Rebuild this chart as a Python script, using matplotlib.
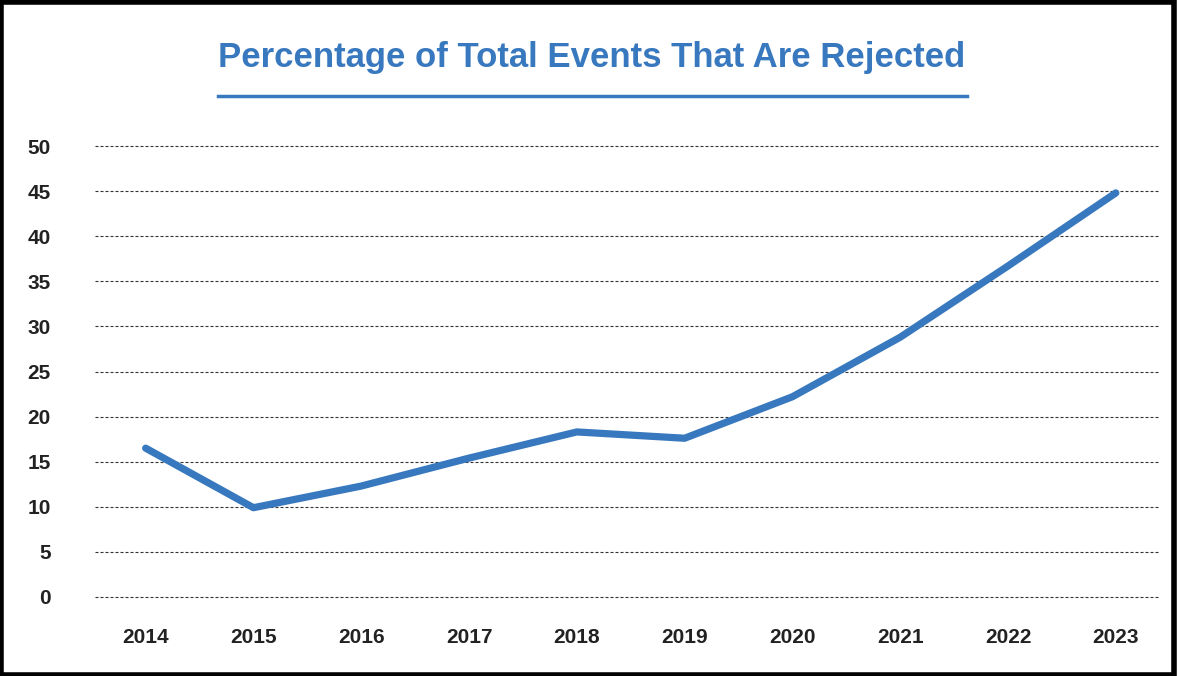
import matplotlib
matplotlib.use("Agg")
import matplotlib.pyplot as plt
from matplotlib.patches import Rectangle
from matplotlib.lines import Line2D

years = ["2014", "2015", "2016", "2017", "2018", "2019", "2020", "2021", "2022", "2023"]
values = [16.5, 9.9, 12.3, 15.4, 18.3, 17.6, 22.2, 28.8, 36.7, 44.8]
yticks = [0, 5, 10, 15, 20, 25, 30, 35, 40, 45, 50]
title = "Percentage of Total Events That Are Rejected"

blue = "#3878BE"
plt.rcParams['font.family'] = ['Liberation Sans', 'DejaVu Sans']

fig = plt.figure(figsize=(11.78, 6.76), dpi=100)
W, H = 1178, 676
ax = fig.add_axes([95 / W, 1 - 597 / H, (1160 - 95) / W, (597 - 146) / H])

x = list(range(len(years)))
ax.plot(x, values, color=blue, lw=5.2, solid_capstyle='round', solid_joinstyle='round', zorder=3)

ax.set_ylim(0, 50)
ax.set_xlim(-0.47, len(years) - 1 + 0.41)
ax.set_yticks(yticks)
ax.set_yticklabels([str(v) for v in yticks])
ax.set_xticks(x)
ax.set_xticklabels(years)
for s in ax.spines.values():
    s.set_visible(False)
ax.tick_params(axis='both', length=0, labelsize=15, colors='#222222')
ax.tick_params(axis='y', pad=32)
ax.tick_params(axis='x', pad=22)
for lab in ax.get_xticklabels() + ax.get_yticklabels():
    lab.set_fontweight('bold')
ax.yaxis.grid(True, color='#333333', lw=0.8, linestyle=(0, (2.7, 1.8)))
for gl in ax.get_ygridlines():
    gl.set_clip_on(False)
ax.set_axisbelow(True)

fig.text(592 / W, 1 - 58 / H, title, ha='center', va='center', fontsize=25,
         fontweight='bold', color=blue)
fig.add_artist(Line2D([218 / W, 967 / W], [1 - 95.5 / H, 1 - 95.5 / H], color=blue, lw=2.5))

fig.add_artist(Rectangle((0.001, 0.002), 0.996, 0.995, transform=fig.transFigure,
                         fill=False, edgecolor='black', lw=4))

fig.savefig("out.png", dpi=100, facecolor='white')
